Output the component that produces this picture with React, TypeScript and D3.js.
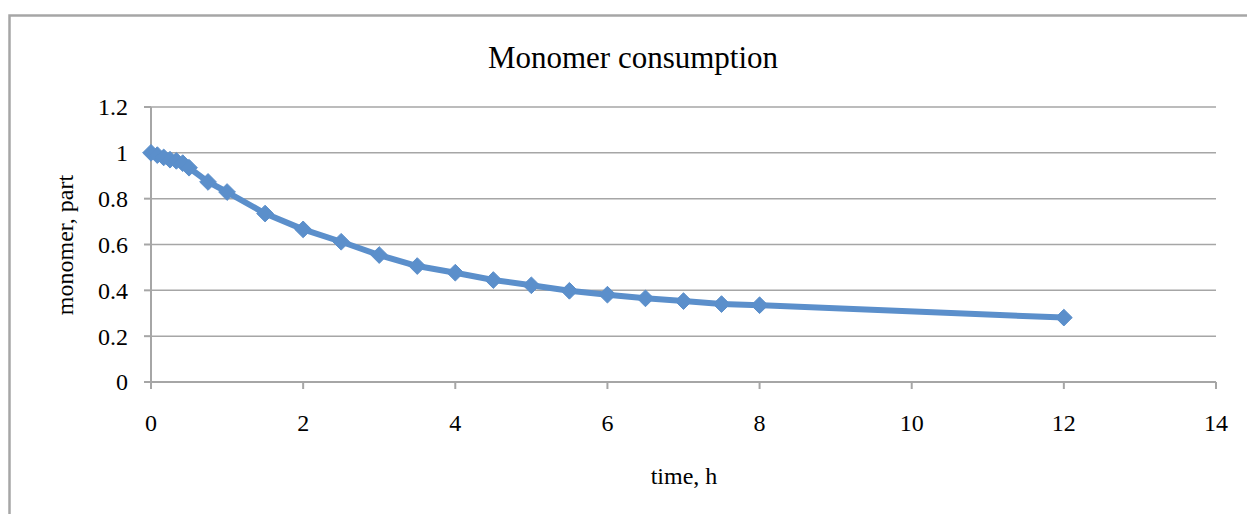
import React from "react";
import * as d3 from "d3";

const times = [0, 0.083, 0.167, 0.25, 0.333, 0.417, 0.5, 0.75, 1, 1.5, 2, 2.5, 3, 3.5, 4, 4.5, 5, 5.5, 6, 6.5, 7, 7.5, 8, 12];
const monomer = [1.0, 0.99, 0.98, 0.97, 0.965, 0.955, 0.935, 0.873, 0.829, 0.735, 0.666, 0.612, 0.554, 0.506, 0.477, 0.445, 0.422, 0.398, 0.381, 0.365, 0.353, 0.34, 0.335, 0.281];
const xTicks = [0, 2, 4, 6, 8, 10, 12, 14];
const yTicks = [0, 0.2, 0.4, 0.6, 0.8, 1, 1.2];
const yTickLabels = ["0", "0.2", "0.4", "0.6", "0.8", "1", "1.2"];

const W = 1247;
const H = 514;
const L = 151, R = 1216, T = 107, B = 382;
const FONT = "'Liberation Serif', 'Times New Roman', serif";
const GRID = "#A6A6A6";
const COLOR = "#5B8FCB";

const squareDiamond = {
  draw(ctx: any, size: number) {
    const r = Math.sqrt(size / 2);
    ctx.moveTo(0, -r);
    ctx.lineTo(r, 0);
    ctx.lineTo(0, r);
    ctx.lineTo(-r, 0);
    ctx.closePath();
  },
};

export default function App() {
  const x = d3.scaleLinear().domain([0, 14]).range([L, R]);
  const y = d3.scaleLinear().domain([0, 1.2]).range([B, T]);
  const data = times.map((t, i) => ({ t, v: monomer[i] }));
  const line = d3.line<{ t: number; v: number }>().x(d => x(d.t)).y(d => y(d.v));
  const diamond = d3.symbol().type(squareDiamond as any).size(140)() as string;

  return (
    <svg width={W} height={H} style={{ position: "absolute", left: 0, top: 0, background: "#fff" }}>
      <rect x={0} y={0} width={W} height={H} fill="#fff" />
      <path d={`M9.5,${H + 5} L9.5,15.5 L${W + 5},15.5`} fill="none" stroke={GRID} strokeWidth={2.5} />
      <text x={633} y={68} textAnchor="middle" fontFamily={FONT} fontSize={31} fill="#000">Monomer consumption</text>
      {yTicks.filter(v => v > 0).map(v => (
        <line key={v} x1={L} x2={R} y1={y(v)} y2={y(v)} stroke={GRID} strokeWidth={1.5} />
      ))}
      <line x1={L} x2={L} y1={T} y2={B} stroke={GRID} strokeWidth={2} />
      {yTicks.map((v, i) => (
        <g key={v}>
          <line x1={L - 7} x2={L} y1={y(v)} y2={y(v)} stroke={GRID} strokeWidth={2} />
          <text x={128} y={y(v)} dy="0.35em" textAnchor="end" fontFamily={FONT} fontSize={24} fill="#000">{yTickLabels[i]}</text>
        </g>
      ))}
      <line x1={L} x2={R} y1={B} y2={B} stroke={GRID} strokeWidth={2} />
      {xTicks.map(v => (
        <g key={v}>
          <line x1={x(v)} x2={x(v)} y1={B} y2={B + 7} stroke={GRID} strokeWidth={2} />
          <text x={x(v)} y={423} dy="0.35em" textAnchor="middle" fontFamily={FONT} fontSize={24} fill="#000">{v}</text>
        </g>
      ))}
      <text x={684} y={484} textAnchor="middle" fontFamily={FONT} fontSize={24} fill="#000">time, h</text>
      <text transform={`translate(73,245) rotate(-90)`} textAnchor="middle" fontFamily={FONT} fontSize={24} fill="#000">monomer, part</text>
      <path d={line(data) as string} fill="none" stroke={COLOR} strokeWidth={6} strokeLinejoin="round" />
      {data.map((d, i) => (
        <path key={i} d={diamond} transform={`translate(${x(d.t)},${y(d.v)})`} fill={COLOR} stroke={COLOR} strokeWidth={1} />
      ))}
    </svg>
  );
}
